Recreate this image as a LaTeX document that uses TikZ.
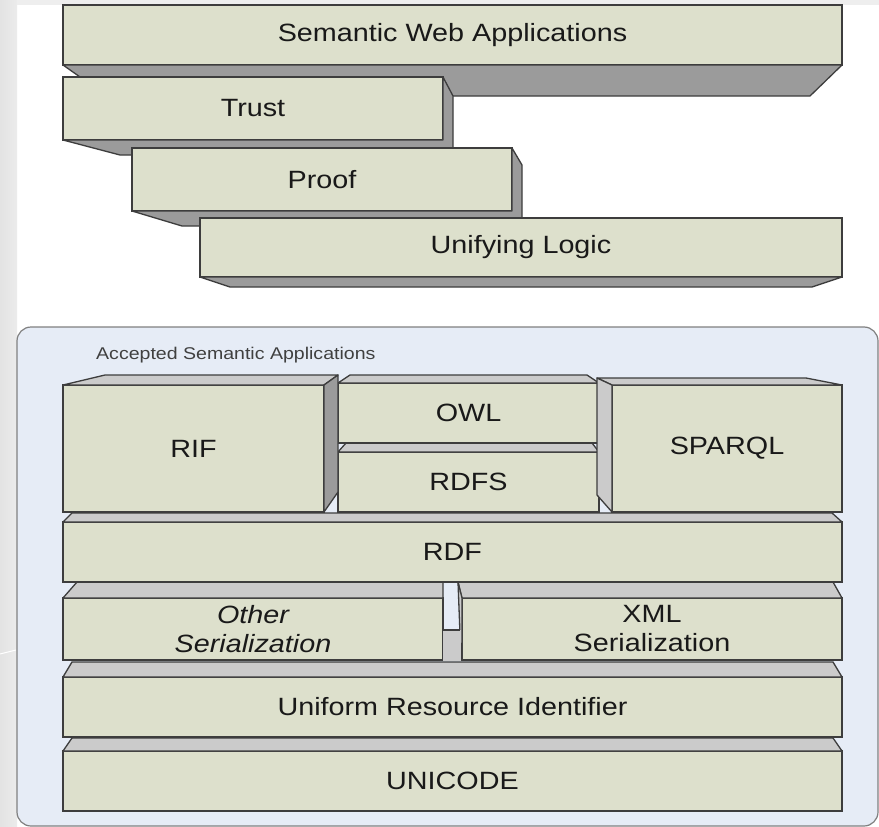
\documentclass[tikz,border=0pt]{standalone}
\usepackage{fontspec}
\setmainfont[FakeStretch=1.15]{Liberation Sans}
\usepackage{tikz}
\usetikzlibrary{calc}
\definecolor{lyfront}{HTML}{DDE0CC}
\definecolor{lydark}{HTML}{9B9B9B}
\definecolor{lylight}{HTML}{CBCBCB}
\definecolor{lyline}{HTML}{3D3D3D}
\definecolor{boxfill}{HTML}{E6ECF6}
\definecolor{boxline}{HTML}{808080}
\definecolor{slide}{HTML}{E3E3E3}
\tikzset{
  layer/.style    ={draw=lyline, fill=lyfront, line width=1.3pt, inner sep=0pt, outer sep=0pt,
                    align=center, text=black!90, font=\fontsize{25}{29}\selectfont},
  slanted/.style  ={layer, font=\fontsize{25}{29}\selectfont\itshape},
  darkface/.style ={draw=lyline, fill=lydark, line width=1.3pt, line join=round},
  lightface/.style={draw=lyline, fill=lylight, line width=1.3pt, line join=round},
  boxlabel/.style ={font=\fontsize{17}{20}\selectfont, text=black!75, inner sep=0pt},
}

\begin{document}
\begin{tikzpicture}[x=1pt,y=-1pt]
    \useasboundingbox (0,0) rectangle (879,827);
    % slide background
    \fill[white] (0,0) rectangle (879,827);
    \shade[left color=slide, right color=slide!70] (0,0) rectangle (17,827);
    \fill[slide!60] (17,0) rectangle (879,5);
    \draw[white, line width=1pt] (0,654) -- (16,650);

    % upper stack
    \node[layer, minimum width=779, minimum height=60] (swa) at (452.5,35) {Semantic Web Applications};
    \path[darkface] (swa.south west) -- (swa.south east) -- ++(-32,31) -- ($(swa.south west)+(44,31)$) -- cycle;
    \node[layer, minimum width=380, minimum height=63] (trust) at (253,108.5) {Trust};
    \path[darkface] (trust.north east) -- ++(10,19) -- ++(0,59) -- ($(trust.south west)+(57,15)$)
                    -- (trust.south west) -- (trust.south east) -- cycle;
    \node[layer, minimum width=380, minimum height=63] (proof) at (322,179.5) {Proof};
    \path[darkface] (proof.north east) -- ++(10,17) -- ++(0,61) -- ($(proof.south west)+(50,15)$)
                    -- (proof.south west) -- (proof.south east) -- cycle;
    \node[layer, minimum width=642, minimum height=59] (logic) at (521,247.5) {Unifying Logic};
    \path[darkface] (logic.south west) -- (logic.south east) -- ++(-30,10) -- ($(logic.south west)+(30,10)$) -- cycle;

    % accepted part
    \draw[boxline, fill=boxfill, line width=1.2pt, rounded corners=14pt] (17,327) rectangle (878,826);
    \node[boxlabel, anchor=west] (accepted) at (96,355) {Accepted Semantic Applications};

    \node[layer, minimum width=779, minimum height=60] (unicode) at (452.5,781) {UNICODE};
    \path[lightface] (unicode.north west) -- ++(9,-13) -- ($(unicode.north east)+(-9,-13)$) -- (unicode.north east) -- cycle;
    \node[layer, minimum width=779, minimum height=60] (uri) at (452.5,707) {Uniform Resource Identifier};
    \path[lightface] (uri.north west) -- ++(9,-15) -- ($(uri.north east)+(-9,-15)$) -- (uri.north east) -- cycle;

    \node[slanted, minimum width=380, minimum height=62] (other) at (253,629) {Other\\Serialization};
    \path[lightface] (other.north west) -- ++(14,-16) -- ($(other.north east)+(0,-16)$) -- (other.north east) -- cycle;
    \node[layer, minimum width=380, minimum height=62] (xml) at (652,629) {XML\\Serialization};
    \path[lightface] (xml.north west) -- ++(-4,-16) -- ($(xml.north east)+(-9,-16)$) -- (xml.north east) -- cycle;
    \path[lightface] (xml.north west) -- ++(-4,-16) -- ($(xml.south west)+(-1,0)$) -- (xml.south west) -- cycle;
    % floor seen through the gap
    \fill[lylight] ($(other.south east)+(0,-30)$) rectangle ($(xml.south west)+(-1,1)$);
    \draw[lyline, line width=1.3pt] ($(other.south east)+(0,-30)$) -- ($(xml.south west)+(-2,-30)$);

    \node[layer, minimum width=779, minimum height=60] (rdf) at (452.5,552) {RDF};
    \path[lightface] (rdf.north west) -- ++(9,-9) -- ($(rdf.north east)+(-10,-9)$) -- (rdf.north east) -- cycle;

    \node[layer, minimum width=261, minimum height=60] (rdfs) at (468.5,482) {RDFS};
    \path[lightface] (rdfs.north west) -- ++(8,-9) -- ($(rdfs.north east)+(-7,-9)$) -- (rdfs.north east) -- cycle;
    \node[layer, minimum width=261, minimum height=60] (owl) at (468.5,413) {OWL};
    \path[lightface] (owl.north west) -- ++(12,-8) -- ($(owl.north east)+(-12,-8)$) -- (owl.north east) -- cycle;

    \node[layer, minimum width=261, minimum height=127] (rif) at (193.5,448.5) {RIF};
    \path[lightface] (rif.north west) -- ++(42,-10) -- ($(rif.north east)+(14,-10)$) -- (rif.north east) -- cycle;
    \path[darkface] (rif.north east) -- ++(14,-10) -- ++(0,117) -- (rif.south east) -- cycle;

    \node[layer, minimum width=230, minimum height=127] (sparql) at (727,448.5) {SPARQL};
    \path[lightface] (sparql.north west) -- ++(-15,-7) -- ($(sparql.north east)+(-36,-7)$) -- (sparql.north east) -- cycle;
    \path[lightface] (sparql.north west) -- ++(-15,-7) -- ++(0,117) -- (sparql.south west) -- cycle;
\end{tikzpicture}
\end{document}
